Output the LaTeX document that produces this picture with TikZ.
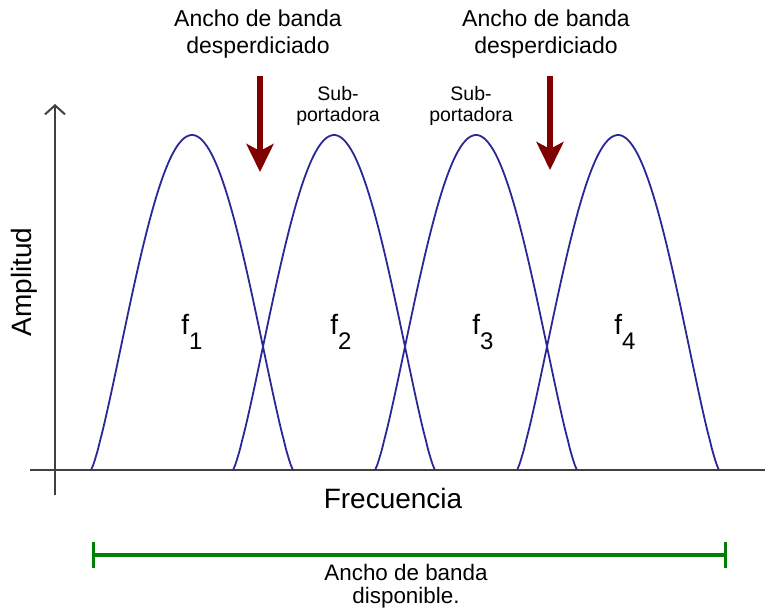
\documentclass[tikz,border=0pt]{standalone}
\usepackage{fontspec}
\setmainfont{Liberation Sans}
\usetikzlibrary{arrows.meta,positioning}
\definecolor{curveblue}{RGB}{40,40,150}
\definecolor{arrowred}{RGB}{128,0,0}
\definecolor{bandgreen}{RGB}{0,128,0}
\newcommand{\fsub}[1]{f\raisebox{-15pt}{\fontsize{24}{24}\selectfont #1}}

\begin{document}
\begin{tikzpicture}[x=1pt, y=-1pt,
  axis/.style={draw=black!75, line width=2pt},
  carrier/.style={draw=curveblue, line width=1.8pt, domain=-0.999:0.999, samples=90, smooth},
  waste/.style={draw=arrowred, line width=6pt, -{Stealth[length=28pt,width=27pt,inset=7pt]}},
  band/.style={draw=bandgreen, line width=3.5pt},
  title/.style={align=center, font=\fontsize{23}{27}\selectfont},
  small/.style={align=center, font=\fontsize{19.5}{21}\selectfont},
  axlabel/.style={font=\fontsize{28}{32}\selectfont},
  flabel/.style={inner sep=0pt, font=\fontsize{28}{32}\selectfont}
]
\useasboundingbox (0,0) rectangle (765,614);

% axes
\coordinate (ytop) at (55,104);
\coordinate (ybot) at (55,495);
\coordinate (xleft) at (30,470);
\coordinate (xright) at (765,470);
\draw[axis, -{Straight Barb[length=9pt,width=20pt]}] (ybot) -- (ytop);
\draw[axis] (xleft) -- (xright);

% sub-carriers
\foreach \c in {192,334,476,618}
  \draw[carrier] plot ({\c+101*\x},{470-335*abs(cos(90*\x))^1.25});

\node[flabel] (f1) at (192,332) {\fsub{1}};
\node[flabel] (f2) at (341,332) {\fsub{2}};
\node[flabel] (f3) at (483,332) {\fsub{3}};
\node[flabel] (f4) at (625,332) {\fsub{4}};

\node[axlabel] (freq) at (393,498) {Frecuencia};
\node[axlabel, rotate=90] (amp) at (24,282) {Amplitud};

% wasted bandwidth
\node[title] (waste1) at (258,34) {Ancho de banda\\desperdiciado};
\node[title] (waste2) at (546,34) {Ancho de banda\\desperdiciado};
\coordinate (w1top) at (260,76);
\coordinate (w1tip) at (260,172);
\coordinate (w2top) at (550,76);
\coordinate (w2tip) at (550,170);
\draw[waste] (w1top) -- (w1tip);
\draw[waste] (w2top) -- (w2tip);

\node[small] (sub1) at (338,106) {Sub-\\portadora};
\node[small] (sub2) at (471,106) {Sub-\\portadora};

% available band
\coordinate (bandL) at (93,555);
\coordinate (bandR) at (725,555);
\draw[band] (bandL) -- (bandR);
\draw[band, line width=3pt] ([yshift=-13pt]bandL) -- ([yshift=13pt]bandL);
\draw[band, line width=3pt] ([yshift=-13pt]bandR) -- ([yshift=13pt]bandR);
\node[title, font=\fontsize{22.4}{23}\selectfont] (avail) at (406,586) {Ancho de banda\\disponible.};
\end{tikzpicture}
\end{document}
